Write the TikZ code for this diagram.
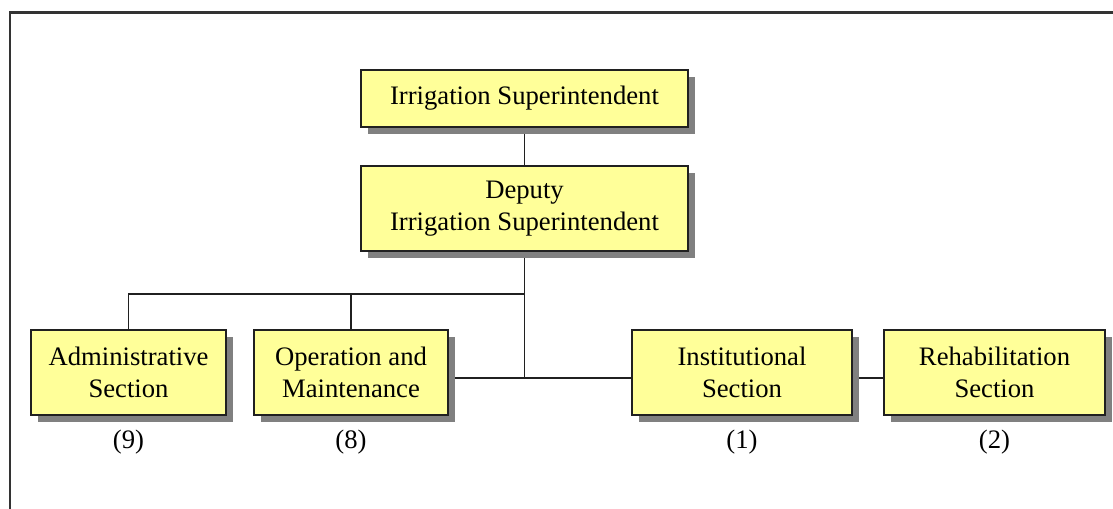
\documentclass[tikz,border=0pt]{standalone}
\usepackage{fontspec}
\setmainfont{Liberation Serif}
\usetikzlibrary{shadows,backgrounds}
\definecolor{boxfill}{HTML}{FFFF99}
\definecolor{boxshadow}{HTML}{808080}
\definecolor{boxline}{HTML}{202020}
\tikzset{
  unitbox/.style={draw=boxline, line width=1pt, fill=boxfill, align=center,
    inner sep=0pt, font=\fontsize{20}{24}\selectfont,
    general shadow={fill=boxshadow, shadow xshift=5.25pt, shadow yshift=-5.25pt}},
  staff/.style={font=\fontsize{20}{24}\selectfont, inner sep=0pt},
  link/.style={draw=boxline, line width=0.8pt},
  frame/.style={draw=black!80, line width=1.6pt}
}
\begin{document}
\begin{tikzpicture}[x=0.75pt, y=-0.75pt]
  \useasboundingbox (0,0) rectangle (1113,509);
  % outer frame (right and bottom edges fall outside the page)
  \draw[frame] (10,509) -- (10,12.5) -- (1113,12.5);

  % units
  \node[unitbox, minimum width=245.25pt, minimum height=42.75pt] (sup) at (524.5,98.5) {Irrigation Superintendent};
  \node[unitbox, minimum width=245.25pt, minimum height=63.75pt] (dep) at (524.5,208.5) {Deputy\\Irrigation Superintendent};
  \node[unitbox, minimum width=146.25pt, minimum height=63.75pt] (adm) at (128.5,372.5) {Administrative\\Section};
  \node[unitbox, minimum width=145.5pt, minimum height=63.75pt] (om) at (351,372.5) {Operation and\\Maintenance};
  \node[unitbox, minimum width=165pt, minimum height=63.75pt] (ins) at (742,372.5) {Institutional\\Section};
  \node[unitbox, minimum width=165.75pt, minimum height=63.75pt] (reh) at (994.5,372.5) {Rehabilitation\\Section};

  % staff numbers
  \node[staff] (n9) at (128.5,442) {(9)};
  \node[staff] (n8) at (351,442) {(8)};
  \node[staff] (n1) at (742,442) {(1)};
  \node[staff] (n2) at (994.5,442) {(2)};

  % connectors
  \coordinate (bus) at (524.5,294);
  \coordinate (mid) at (524.5,378);
  \begin{scope}[on background layer]
    \draw[link] (sup.south) -- (dep.north);
    \draw[link] (dep.south) -- (mid);
    \draw[link] (om.east |- mid) -- (ins.west |- mid);
    \draw[link] (adm.north) -- (adm.north |- bus) -- (bus);
    \draw[link] (om.north) -- (om.north |- bus);
    \draw[link] (ins.east |- mid) -- (reh.west |- mid);
  \end{scope}
\end{tikzpicture}
\end{document}
